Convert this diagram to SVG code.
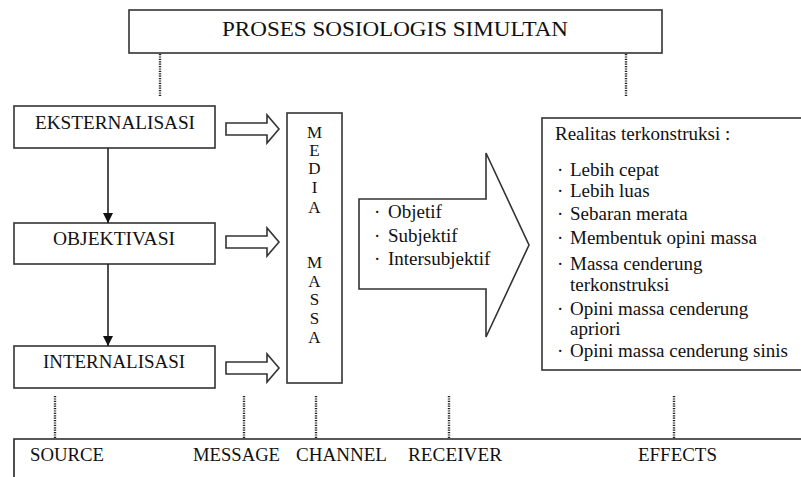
<svg xmlns="http://www.w3.org/2000/svg" width="801" height="477" viewBox="0 0 801 477">
<style>
text{font-family:"Liberation Serif","Times New Roman",serif;fill:#111;}
.box{fill:#fff;stroke:#333;stroke-width:1.6;}
.lbl{font-size:19px;}
.mm{font-size:17px;text-anchor:middle;}
.dot{stroke:#222;stroke-width:2.4;stroke-dasharray:1.2 1.2;fill:none;}
.ln{stroke:#222;stroke-width:1.6;fill:none;}
.blk{fill:#fff;stroke:#333;stroke-width:1.6;stroke-linejoin:miter;}
</style>
<defs>
<marker id="ah" viewBox="0 0 10 10" refX="10" refY="5" markerWidth="10" markerHeight="10" markerUnits="userSpaceOnUse" orient="auto">
<path d="M0,0 L10,5 L0,10 Z" fill="#111"/>
</marker>
</defs>
<rect width="801" height="477" fill="#fff"/>

<g id="title">
<rect class="box" x="129" y="10" width="533" height="43"/>
<text x="222" y="36" font-size="22" textLength="346" lengthAdjust="spacingAndGlyphs">PROSES SOSIOLOGIS SIMULTAN</text>
</g>

<g id="eksternalisasi">
<rect class="box" x="14" y="106" width="201" height="42"/>
<text class="lbl" x="35" y="129" textLength="160" lengthAdjust="spacingAndGlyphs">EKSTERNALISASI</text>
</g>
<g id="objektivasi">
<rect class="box" x="14" y="223" width="201" height="41"/>
<text class="lbl" x="53" y="245" textLength="122" lengthAdjust="spacingAndGlyphs">OBJEKTIVASI</text>
</g>
<g id="internalisasi">
<rect class="box" x="14" y="346" width="201" height="42"/>
<text class="lbl" x="43" y="368" textLength="142" lengthAdjust="spacingAndGlyphs">INTERNALISASI</text>
</g>

<g id="media-massa">
<rect class="box" x="287" y="113" width="55" height="270"/>
<text class="mm" x="314.5" y="138">M</text>
<text class="mm" x="314.5" y="156">E</text>
<text class="mm" x="314.5" y="174">D</text>
<text class="mm" x="314.5" y="193">I</text>
<text class="mm" x="314.5" y="213">A</text>
<text class="mm" x="314.5" y="268">M</text>
<text class="mm" x="314.5" y="287">A</text>
<text class="mm" x="314.5" y="305">S</text>
<text class="mm" x="314.5" y="324">S</text>
<text class="mm" x="314.5" y="343">A</text>
</g>

<g id="receiver-arrow">
<polygon class="blk" points="359,199 486,199 486,153 529,245 486,337 486,289 359,289"/>
<text class="lbl" x="374" y="218">·</text><text class="lbl" x="388" y="218">Objetif</text>
<text class="lbl" x="374" y="242">·</text><text class="lbl" x="388" y="242">Subjektif</text>
<text class="lbl" x="374" y="265">·</text><text class="lbl" x="388" y="265">Intersubjektif</text>
</g>

<g id="effects">
<rect class="box" x="542" y="118" width="262" height="252"/>
<text class="lbl" x="555" y="140">Realitas terkonstruksi :</text>
<text class="lbl" x="557" y="176">·</text><text class="lbl" x="570" y="176">Lebih cepat</text>
<text class="lbl" x="557" y="197">·</text><text class="lbl" x="570" y="197">Lebih luas</text>
<text class="lbl" x="557" y="220">·</text><text class="lbl" x="570" y="220">Sebaran merata</text>
<text class="lbl" x="557" y="244">·</text><text class="lbl" x="570" y="244">Membentuk opini massa</text>
<text class="lbl" x="557" y="270">·</text><text class="lbl" x="570" y="270">Massa cenderung</text>
<text class="lbl" x="570" y="291">terkonstruksi</text>
<text class="lbl" x="557" y="315">·</text><text class="lbl" x="570" y="315">Opini massa cenderung</text>
<text class="lbl" x="570" y="335">apriori</text>
<text class="lbl" x="557" y="357">·</text><text class="lbl" x="570" y="357">Opini massa cenderung sinis</text>
</g>

<g id="axis">
<path class="ln" d="M14,477 V439 H803"/>
<text class="lbl" x="30" y="461" textLength="74" lengthAdjust="spacingAndGlyphs">SOURCE</text>
<text class="lbl" x="193" y="461" textLength="87" lengthAdjust="spacingAndGlyphs">MESSAGE</text>
<text class="lbl" x="296" y="461" textLength="91" lengthAdjust="spacingAndGlyphs">CHANNEL</text>
<text class="lbl" x="408" y="461" textLength="94" lengthAdjust="spacingAndGlyphs">RECEIVER</text>
<text class="lbl" x="638" y="461" textLength="79" lengthAdjust="spacingAndGlyphs">EFFECTS</text>
</g>

<g id="connectors">
<line class="dot" x1="160" y1="54" x2="160" y2="97"/>
<line class="dot" x1="626" y1="54" x2="626" y2="97"/>
<line class="ln" x1="108" y1="148" x2="108" y2="223" marker-end="url(#ah)"/>
<line class="ln" x1="108" y1="264" x2="108" y2="346" marker-end="url(#ah)"/>
<polygon class="blk" points="226,123 267,123 267,115 279,129 267,143 267,135 226,135"/>
<polygon class="blk" points="226,236 267,236 267,228 279,242 267,256 267,248 226,248"/>
<polygon class="blk" points="226,362 267,362 267,354 279,368 267,382 267,374 226,374"/>
<line class="dot" x1="55" y1="396" x2="55" y2="439"/>
<line class="dot" x1="244" y1="396" x2="244" y2="439"/>
<line class="dot" x1="316" y1="396" x2="316" y2="439"/>
<line class="dot" x1="449" y1="396" x2="449" y2="439"/>
<line class="dot" x1="674" y1="396" x2="674" y2="439"/>
</g>
</svg>
